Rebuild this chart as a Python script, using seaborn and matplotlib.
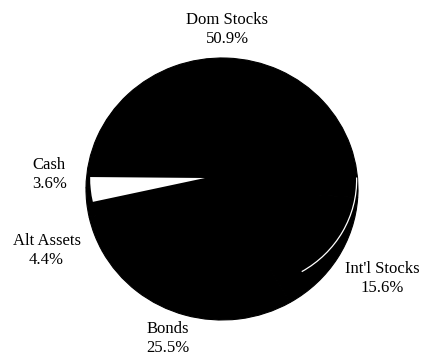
import matplotlib
matplotlib.use("Agg")
import matplotlib.pyplot as plt
from matplotlib.patches import Arc
import seaborn as sns

# Asset allocation (percent of portfolio)
categories = ["Dom Stocks", "Int'l Stocks", "Bonds", "Alt Assets", "Cash"]
shares = [50.9, 15.6, 25.5, 4.4, 3.6]
colors = ["black", "black", "black", "black", "white"]

# label anchor points (pie radius units) for each category
label_pos = [(0.04, 1.22), (1.18, -0.68), (-0.40, -1.14), (-1.29, -0.47), (-1.27, 0.11)]

sns.set_theme(style="white")
plt.rcParams["font.family"] = ["Liberation Serif", "DejaVu Serif"]

fig = plt.figure(figsize=(4.24, 3.58), dpi=100)
ax = fig.add_axes([0, 0, 1, 1])

START = 179.5

# body of the tilted pie (side walls), all slices dark
body, _ = ax.pie(shares, colors=["black"] * len(shares), startangle=START,
                 counterclock=False, radius=1.0,
                 wedgeprops=dict(linewidth=0.8, edgecolor="black"))

# top face of the pie, lifted up and to the left, tangent inside the body
face_center = (-0.125, 0.084)
face_radius = 1.0 - (face_center[0] ** 2 + face_center[1] ** 2) ** 0.5 - 0.005
face, _ = ax.pie(shares, colors=colors, startangle=START, counterclock=False,
                 radius=face_radius, center=face_center,
                 wedgeprops=dict(linewidth=0))
for wd, c in zip(face, colors):
    if c == "black":
        wd.set_edgecolor("black")
        wd.set_linewidth(0.8)
        wd.set_zorder(1.5)
    else:
        wd.set_zorder(2)

# rim highlight along the international stocks slice
w = body[1]
ax.add_patch(Arc((0.18, 0.07), 2 * 0.81, 2 * 0.81, theta1=w.theta1,
                 theta2=w.theta2 + 5, color="white", lw=0.9, zorder=3))

for name, val, (lx, ly) in zip(categories, shares, label_pos):
    ax.text(lx, ly, f"{name}\n{val:.1f}%", ha="center", va="center",
            fontsize=12, linespacing=1.25, color="black")

ax.set_aspect("auto")
ax.set_xlim(-222 / 136, (424 - 222) / 136)
ax.set_ylim(-169 / 131, (358 - 169) / 131)
ax.axis("off")

fig.savefig("out.png", dpi=100, facecolor="white")
